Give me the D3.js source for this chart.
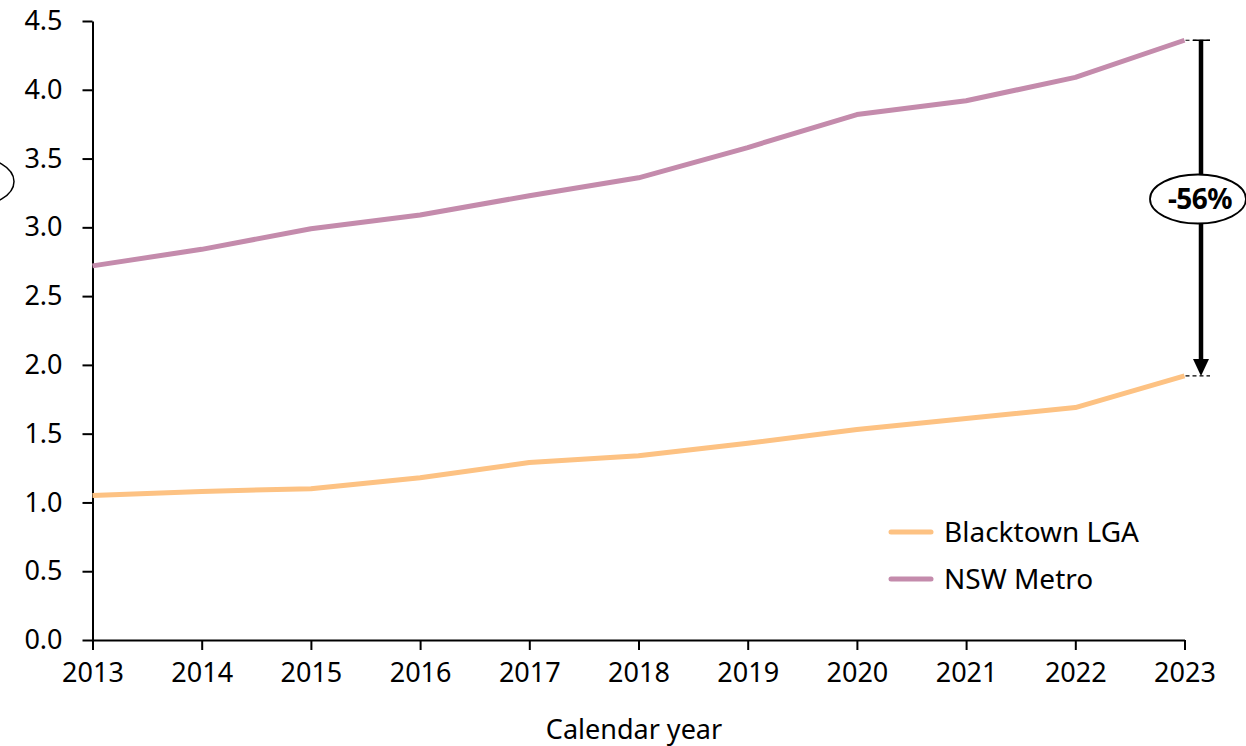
<!DOCTYPE html>
<html>
<head>
<meta charset="utf-8">
<script src="https://cdn.jsdelivr.net/npm/d3@7"></script>
<style>
  html, body { margin: 0; padding: 0; background: #fff; }
  svg { display: block; font-family: "Noto Sans", sans-serif; }
</style>
</head>
<body>
<svg id="chart" width="1246" height="746"></svg>
<script>
// Calendar years on the x axis
const years = [2013, 2014, 2015, 2016, 2017, 2018, 2019, 2020, 2021, 2022, 2023];
// Series values
const blacktown = [1.05, 1.08, 1.10, 1.18, 1.29, 1.34, 1.43, 1.53, 1.61, 1.69, 1.92];
const nswMetro  = [2.72, 2.84, 2.99, 3.09, 3.23, 3.36, 3.58, 3.82, 3.92, 4.09, 4.36];
const seriesNames = ["Blacktown LGA", "NSW Metro"];
const seriesColors = ["#FDC283", "#C48BAC"];
const yTicks = [0, 0.5, 1.0, 1.5, 2.0, 2.5, 3.0, 3.5, 4.0, 4.5];
const xTitle = "Calendar year";
const gapLabel = "-56%";

const svg = d3.select("#chart");
const fontSize = 27;

const x = d3.scaleLinear().domain([2013, 2023]).range([92.5, 1184.5]);
const y = d3.scaleLinear().domain([0, 4.5]).range([640, 21]);

// Y axis
const yAxis = svg.append("g")
  .attr("transform", `translate(${x(2013)},0)`)
  .call(d3.axisLeft(y).tickValues(yTicks).tickFormat(d3.format(".1f")).tickSize(10).tickPadding(20).tickSizeOuter(0));
// X axis
const xAxis = svg.append("g")
  .attr("transform", `translate(0,${y(0)})`)
  .call(d3.axisBottom(x).tickValues(years).tickFormat(d3.format("d")).tickSize(10).tickPadding(13).tickSizeOuter(0));

[yAxis, xAxis].forEach(g => {
  g.selectAll("path.domain").attr("stroke", "#000").attr("stroke-width", 2);
  g.selectAll(".tick line").attr("stroke", "#000").attr("stroke-width", 2);
  g.selectAll(".tick text").attr("fill", "#000").style("font-size", fontSize + "px")
    .style("font-family", "'Noto Sans', sans-serif");
});

// X axis title
svg.append("text")
  .attr("x", 634).attr("y", 739)
  .attr("text-anchor", "middle")
  .style("font-size", fontSize + "px")
  .attr("fill", "#000")
  .text(xTitle);

// Partial ellipse at the left edge
svg.append("ellipse")
  .attr("cx", -29).attr("cy", 181.5).attr("rx", 43).attr("ry", 25)
  .attr("fill", "none").attr("stroke", "#000").attr("stroke-width", 1.5);

// Lines
const line = d3.line().x((d, i) => x(years[i])).y(d => y(d));
[blacktown, nswMetro].forEach((vals, k) => {
  svg.append("path")
    .datum(vals)
    .attr("d", line)
    .attr("fill", "none")
    .attr("stroke", seriesColors[k])
    .attr("stroke-width", 5)
    .attr("stroke-linejoin", "round");
});

// Gap arrow between the 2023 values
const last = years.length - 1;
const ax = 1201;
const yTop = y(nswMetro[last]);
const yBot = y(blacktown[last]);
[yTop, yBot].forEach(yy => {
  svg.append("line")
    .attr("x1", x(2023) + 1).attr("x2", 1210)
    .attr("y1", yy).attr("y2", yy)
    .attr("stroke", "#000").attr("stroke-width", 1.2)
    .attr("stroke-dasharray", "4,3");
});
svg.append("line")
  .attr("x1", 1193).attr("x2", 1210).attr("y1", yTop).attr("y2", yTop)
  .attr("stroke", "#000").attr("stroke-width", 1.5);
svg.append("line")
  .attr("x1", ax).attr("x2", ax)
  .attr("y1", yTop).attr("y2", yBot - 16)
  .attr("stroke", "#000").attr("stroke-width", 4.5);
svg.append("path")
  .attr("d", `M${ax - 8},${yBot - 17} L${ax + 8},${yBot - 17} L${ax},${yBot} Z`)
  .attr("fill", "#000");

svg.append("ellipse")
  .attr("cx", 1198).attr("cy", 199).attr("rx", 48).attr("ry", 24.5)
  .attr("fill", "#fff").attr("stroke", "#000").attr("stroke-width", 1.8);
svg.append("text")
  .attr("x", 1200).attr("y", 199)
  .attr("dy", "0.35em")
  .attr("text-anchor", "middle")
  .style("font-size", "28px").style("font-weight", "bold")
  .style("letter-spacing", "-0.5px")
  .attr("fill", "#000")
  .text(gapLabel);

// Legend
const legend = svg.append("g");
seriesNames.forEach((name, i) => {
  const ly = 532 + i * 47;
  legend.append("line")
    .attr("x1", 891).attr("x2", 931).attr("y1", ly).attr("y2", ly)
    .attr("stroke", seriesColors[i]).attr("stroke-width", 5).attr("stroke-linecap", "round");
  legend.append("text")
    .attr("x", 944).attr("y", ly).attr("dy", "0.35em")
    .style("font-size", "28px").attr("fill", "#000")
    .text(name);
});
</script>
</body>
</html>
